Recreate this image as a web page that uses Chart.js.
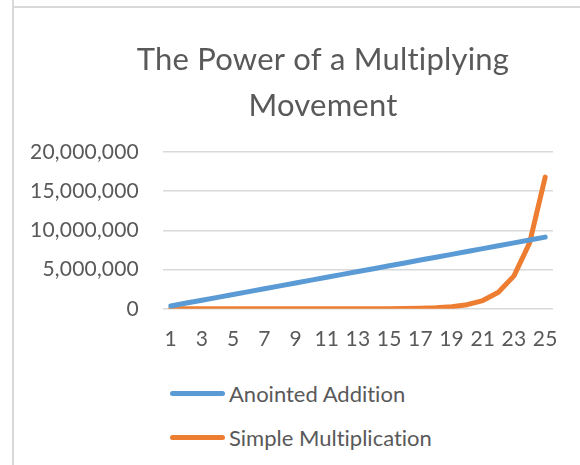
<!DOCTYPE html>
<html>
<head>
<meta charset="utf-8">
<script src="https://cdn.jsdelivr.net/npm/chart.js@4"></script>
<style>
    html, body { margin: 0; padding: 0; background: #fff; overflow: hidden; width: 580px; height: 465px; }
    .vline { position: absolute; left: 12px; top: 0; width: 2px; height: 465px; background: #d9d9d9; }
    .hline { position: absolute; left: 12px; top: 6px; width: 568px; height: 2px; background: #d9d9d9; }
    #wrap { position: absolute; left: 14px; top: 8px; width: 618px; height: 362px; }
    #legend { position: absolute; left: 170px; top: 378px; font-family: Lato, sans-serif; font-size: 22px;
        color: #595959; font-variant-ligatures: none; }
    #legend .item { display: flex; align-items: center; height: 30px; margin-bottom: 14px; }
    #legend .swatch { width: 55px; height: 5px; border-radius: 3px; margin-right: 4px; }
</style>
</head>
<body>
<div class="vline"></div>
<div class="hline"></div>
<div id="wrap"><canvas id="lineChart"></canvas></div>
<div id="legend"></div>
<script>
const days = ['1', '2', '3', '4', '5', '6', '7', '8', '9', '10', '11', '12', '13',
    '14', '15', '16', '17', '18', '19', '20', '21', '22', '23', '24', '25'];
const anointedAddition = [365000, 730000, 1095000, 1460000, 1825000, 2190000, 2555000,
    2920000, 3285000, 3650000, 4015000, 4380000, 4745000, 5110000, 5475000, 5840000,
    6205000, 6570000, 6935000, 7300000, 7665000, 8030000, 8395000, 8760000, 9125000];
const simpleMultiplication = [1, 2, 4, 8, 16, 32, 64, 128, 256, 512, 1024, 2048, 4096,
    8192, 16384, 32768, 65536, 131072, 262144, 524288, 1048576, 2097152, 4194304,
    8388608, 16777216];

const textColor = '#595959';
const fontFamily = 'Lato, sans-serif';

// canvas has no ligature switch, a tiny letter spacing turns them off
const noLigatures = {
    id: 'noLigatures',
    beforeDraw(chart) {
        chart.ctx.letterSpacing = '0.2px';
    }
};

const chart = new Chart(document.getElementById('lineChart'), {
    type: 'line',
    data: {
        labels: days,
        datasets: [
            {
                label: 'Anointed Addition',
                data: anointedAddition,
                borderColor: '#5b9bd5',
                backgroundColor: '#5b9bd5',
                borderWidth: 5,
                pointRadius: 0,
                borderCapStyle: 'round',
                borderJoinStyle: 'round',
                tension: 0
            },
            {
                label: 'Simple Multiplication',
                data: simpleMultiplication,
                borderColor: '#ed7d31',
                backgroundColor: '#ed7d31',
                borderWidth: 5,
                pointRadius: 0,
                borderCapStyle: 'round',
                borderJoinStyle: 'round',
                tension: 0
            }
        ]
    },
    options: {
        responsive: true,
        maintainAspectRatio: false,
        animation: false,
        layout: {
            padding: 0
        },
        scales: {
            x: {
                offset: true,
                grid: { display: false, drawTicks: false },
                border: { display: false },
                ticks: {
                    autoSkip: false,
                    maxRotation: 0,
                    padding: 18,
                    color: textColor,
                    font: { family: fontFamily, size: 21 },
                    callback: function (value, index) {
                        return index % 2 === 0 ? this.getLabelForValue(value) : '';
                    }
                }
            },
            y: {
                min: 0,
                max: 20000000,
                afterFit: scale => { scale.width = 149; },
                grid: { color: '#d9d9d9', lineWidth: 1.5, drawTicks: false },
                border: { display: false },
                ticks: {
                    stepSize: 5000000,
                    padding: 24,
                    color: textColor,
                    font: { family: fontFamily, size: 21 },
                    callback: v => v.toLocaleString('en-US')
                }
            },
            // empty space on the right, the excel chart is cut off there
            spacer: {
                type: 'linear',
                position: 'right',
                afterFit: scale => { scale.width = 79; },
                grid: { display: false, drawTicks: false },
                border: { display: false },
                ticks: { display: false }
            }
        },
        plugins: {
            legend: { display: false },
            tooltip: { enabled: false },
            title: {
                display: true,
                text: ['The Power of a Multiplying', 'Movement'],
                color: textColor,
                font: { family: fontFamily, size: 31, weight: 'normal', lineHeight: 1.48 },
                padding: { top: 29, bottom: 23 }
            }
        }
    },
    plugins: [noLigatures]
});

// legend stacked like the Excel one
const legendBox = document.getElementById('legend');
chart.data.datasets.forEach(ds => {
    const item = document.createElement('div');
    item.className = 'item';
    const sw = document.createElement('span');
    sw.className = 'swatch';
    sw.style.background = ds.borderColor;
    const txt = document.createElement('span');
    txt.textContent = ds.label;
    item.appendChild(sw);
    item.appendChild(txt);
    legendBox.appendChild(item);
});
</script>
</body>
</html>
